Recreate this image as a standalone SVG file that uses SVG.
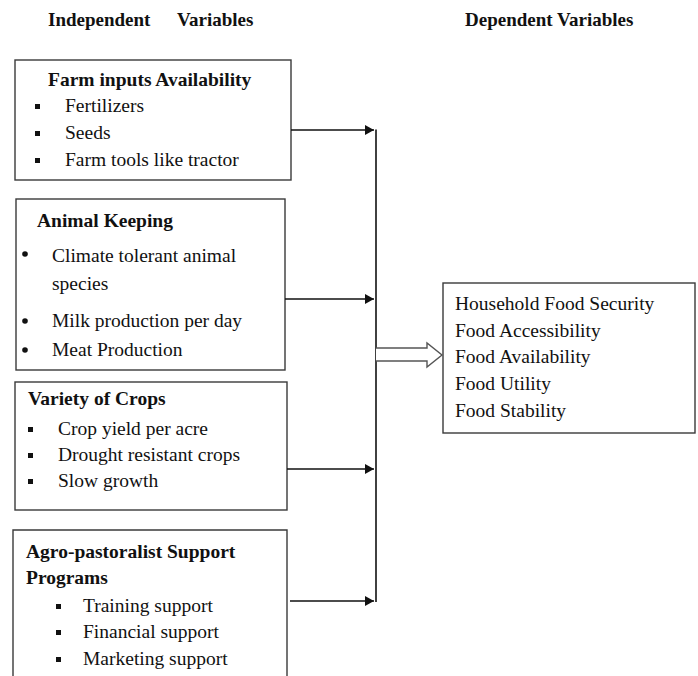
<svg xmlns="http://www.w3.org/2000/svg" width="698" height="676" viewBox="0 0 698 676">
<style>
  .box{fill:#fff;stroke:#3a3a3a;stroke-width:1.4}
  .t{font-family:"Liberation Serif","Times New Roman",serif;font-size:19.5px;fill:#111}
  .b{font-family:"Liberation Serif","Times New Roman",serif;font-size:19.5px;font-weight:bold;fill:#111}
  .h{font-family:"Liberation Serif","Times New Roman",serif;font-size:19px;font-weight:bold;fill:#111}
  .conn{stroke:#111;stroke-width:1.6;fill:none}
  .sq{fill:#111}
</style>
<defs>
  <marker id="ah" markerWidth="10" markerHeight="10" refX="9" refY="5" orient="auto" markerUnits="userSpaceOnUse">
    <path d="M0,0 L9,5 L0,10 Z" fill="#111"/>
  </marker>
</defs>
<rect width="698" height="676" fill="#fff"/>
<text class="h" x="48" y="26">Independent</text>
<text class="h" x="177" y="26">Variables</text>
<text class="h" x="465" y="26">Dependent Variables</text>

<g id="farm-inputs">
  <rect class="box" x="15" y="60" width="276" height="120"/>
  <text class="b" x="48" y="86">Farm inputs Availability</text>
  <rect class="sq" x="35" y="104" width="5" height="5"/>
  <text class="t" x="65" y="112">Fertilizers</text>
  <rect class="sq" x="35" y="131" width="5" height="5"/>
  <text class="t" x="65" y="139">Seeds</text>
  <rect class="sq" x="35" y="158" width="5" height="5"/>
  <text class="t" x="65" y="166">Farm tools like tractor</text>
</g>

<g id="animal-keeping">
  <rect class="box" x="16" y="199" width="269" height="171"/>
  <text class="b" x="37" y="227">Animal Keeping</text>
  <circle class="sq" cx="25" cy="254" r="2.8"/>
  <text class="t" x="52" y="262">Climate tolerant animal</text>
  <text class="t" x="52" y="290">species</text>
  <circle class="sq" cx="25" cy="321" r="2.8"/>
  <text class="t" x="52" y="327">Milk production per day</text>
  <circle class="sq" cx="25" cy="350" r="2.8"/>
  <text class="t" x="52" y="356">Meat Production</text>
</g>

<g id="variety-crops">
  <rect class="box" x="15" y="382" width="272" height="128"/>
  <text class="b" x="28" y="405">Variety of Crops</text>
  <rect class="sq" x="28" y="427" width="5" height="5"/>
  <text class="t" x="58" y="435">Crop yield per acre</text>
  <rect class="sq" x="28" y="453" width="5" height="5"/>
  <text class="t" x="58" y="461">Drought resistant  crops</text>
  <rect class="sq" x="28" y="479" width="5" height="5"/>
  <text class="t" x="58" y="487">Slow growth</text>
</g>

<g id="support-programs">
  <path class="box" d="M13,676 L13,530 L287,530 L287,676"/>
  <text class="b" x="26" y="558">Agro-pastoralist  Support</text>
  <text class="b" x="26" y="584">Programs</text>
  <rect class="sq" x="56" y="604" width="5" height="5"/>
  <text class="t" x="83" y="612">Training support</text>
  <rect class="sq" x="56" y="630" width="5" height="5"/>
  <text class="t" x="83" y="638">Financial support</text>
  <rect class="sq" x="56" y="657" width="5" height="5"/>
  <text class="t" x="83" y="665">Marketing support</text>
</g>

<g id="food-security">
  <rect class="box" x="443" y="283" width="252" height="150"/>
  <text class="t" x="455" y="310">Household  Food Security</text>
  <text class="t" x="455" y="337">Food Accessibility</text>
  <text class="t" x="455" y="363">Food Availability</text>
  <text class="t" x="455" y="390">Food Utility</text>
  <text class="t" x="455" y="417">Food Stability</text>
</g>

<g id="connectors">
  <line class="conn" x1="376" y1="129.5" x2="376" y2="602"/>
  <line class="conn" x1="291" y1="130" x2="374" y2="130" marker-end="url(#ah)"/>
  <line class="conn" x1="285" y1="299" x2="374" y2="299" marker-end="url(#ah)"/>
  <line class="conn" x1="287" y1="469" x2="374" y2="469" marker-end="url(#ah)"/>
  <line class="conn" x1="290" y1="601" x2="374" y2="601" marker-end="url(#ah)"/>
  <path d="M376,348 L427,348 L427,343 L442,355 L427,367 L427,361 L376,361" fill="#fff" stroke="#555" stroke-width="1.4"/>
</g>
</svg>
